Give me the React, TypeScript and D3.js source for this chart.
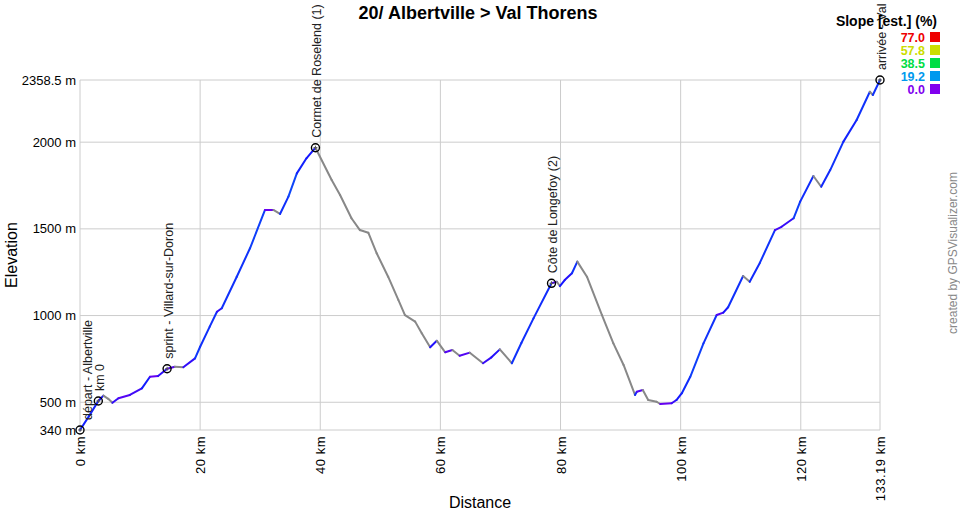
import React from "react";
import * as d3 from "d3";

const distKm = [0, 1.5, 3.05, 3.9, 4.7, 5.4, 6.4, 8.3, 10.3, 11.65, 13.0, 14.5, 15.8, 17.2, 19.15, 20.0, 21.6, 22.8, 23.6, 26.1, 28.3, 30.8, 32.2, 33.3, 34.7, 36.1, 37.7, 39.2, 41.9, 43.3, 45.2, 46.6, 48.0, 49.4, 51.3, 53.0, 54.1, 55.8, 56.9, 58.3, 59.4, 60.8, 62.0, 63.2, 64.9, 67.1, 68.5, 69.9, 71.9, 73.5, 75.5, 78.5, 79.4, 79.9, 80.7, 81.9, 82.8, 84.4, 86.9, 88.8, 90.5, 92.4, 92.7, 93.7, 94.6, 96.0, 96.6, 98.5, 99.3, 100.2, 101.6, 103.8, 106.0, 107.1, 107.9, 110.4, 111.5, 113.2, 115.7, 116.8, 118.8, 119.9, 122.1, 123.4, 124.9, 127.1, 129.3, 131.5, 132.0, 133.19];
const elevM = [340, 420, 507, 538, 520, 497, 523, 542, 580, 647, 651, 693, 705, 702, 753, 820, 936, 1022, 1042, 1224, 1388, 1609, 1609, 1586, 1686, 1820, 1907, 1968, 1782, 1695, 1561, 1493, 1478, 1359, 1224, 1090, 1003, 965, 898, 817, 855, 788, 801, 768, 786, 725, 759, 805, 725, 843, 984, 1186, 1195, 1170, 1205, 1244, 1311, 1224, 1003, 840, 715, 542, 561, 571, 513, 503, 490, 494, 513, 552, 647, 840, 1003, 1017, 1048, 1228, 1195, 1305, 1493, 1512, 1561, 1657, 1805, 1743, 1839, 2003, 2128, 2291, 2272, 2358.5];

const markerNames = ["départ - Albertville", "km 0", "sprint - Villard-sur-Doron", "Cormet de Roselend (1)", "Côte de Longefoy (2)", "arrivée - Val Thorens"];
const markerKm = [0, 3.05, 14.5, 39.2, 78.5, 133.19];

const yTicks = [340, 500, 1000, 1500, 2000, 2358.5];
const yTickLabels = ["340 m", "500 m", "1000 m", "1500 m", "2000 m", "2358.5 m"];
const xTicks = [0, 20, 40, 60, 80, 100, 120, 133.19];
const xTickLabels = ["0 km", "20 km", "40 km", "60 km", "80 km", "100 km", "120 km", "133.19 km"];

const legendValues = ["77.0", "57.8", "38.5", "19.2", "0.0"];
const legendColors = ["#ee0000", "#ccdd00", "#00dd44", "#0099ee", "#8000ee"];
const lineSlopeStops = [0, 4, 19.2, 38.5, 57.8, 77.0];
const lineSlopeColors = ["#6a00f0", "#1414ff", "#0099ee", "#00dd44", "#ccdd00", "#ee0000"];

const FONT = "Arial, 'Liberation Sans', sans-serif";

export default function App() {
  const x = d3.scaleLinear().domain([0, 133.19]).range([80, 880]);
  const y = d3.scaleLinear().domain([340, 2358.5]).range([430, 80]);
  const colorScale = d3
    .scaleLinear<string>()
    .domain(lineSlopeStops)
    .range(lineSlopeColors)
    .interpolate(d3.interpolateRgb)
    .clamp(true);

  const segs = [];
  for (let i = 0; i < distKm.length - 1; i++) {
    const dd = (distKm[i + 1] - distKm[i]) * 1000;
    const de = elevM[i + 1] - elevM[i];
    const slope = (de / dd) * 100;
    const col = slope < 0 ? "#888888" : colorScale(slope);
    segs.push(
      <line
        key={"s" + i}
        x1={x(distKm[i])}
        y1={y(elevM[i])}
        x2={x(distKm[i + 1])}
        y2={y(elevM[i + 1])}
        stroke={col}
        strokeWidth={2}
        strokeLinecap="round"
      />
    );
  }

  const elevAt = (km: number) => {
    const idx = d3.bisectLeft(distKm, km);
    if (idx <= 0) return elevM[0];
    if (idx >= distKm.length) return elevM[elevM.length - 1];
    const t = (km - distKm[idx - 1]) / (distKm[idx] - distKm[idx - 1]);
    return elevM[idx - 1] + t * (elevM[idx] - elevM[idx - 1]);
  };

  return (
    <svg
      width={960}
      height={510}
      style={{ position: "absolute", left: 0, top: 0, background: "#fff" }}
      fontFamily={FONT}
    >
      <rect x={0} y={0} width={960} height={510} fill="#fff" />
      {yTicks.map((t) => (
        <line key={"gy" + t} x1={80} x2={880} y1={y(t)} y2={y(t)} stroke="#cccccc" strokeWidth={1} />
      ))}
      {xTicks.map((t) => (
        <line key={"gx" + t} x1={x(t)} x2={x(t)} y1={80} y2={430} stroke="#cccccc" strokeWidth={1} />
      ))}
      {yTicks.map((t, i) => (
        <text key={"yl" + t} x={76} y={y(t)} dy="0.35em" textAnchor="end" fontSize={13} fill="#000">
          {yTickLabels[i]}
        </text>
      ))}
      {xTicks.map((t, i) => (
        <text
          key={"xl" + t}
          transform={`translate(${x(t) + 5},436) rotate(-90)`}
          textAnchor="end"
          fontSize={13}
          letterSpacing={0.5}
          fill="#000"
        >
          {xTickLabels[i]}
        </text>
      ))}
      <text x={480} y={508} textAnchor="middle" fontSize={16} fill="#000">
        Distance
      </text>
      <text transform="translate(17,255) rotate(-90)" textAnchor="middle" fontSize={16} fill="#000">
        Elevation
      </text>
      <text x={478} y={19} textAnchor="middle" fontSize={18} fontWeight="bold" fill="#000">
        20/ Albertville &gt; Val Thorens
      </text>
      {segs}
      {markerKm.map((km, i) => {
        const mx = x(km);
        const my = y(elevAt(km));
        const tx = Math.max(mx + 1, 87);
        return (
          <g key={"m" + i}>
            <circle cx={mx} cy={my} r={4} fill="none" stroke="#000" strokeWidth={1.4} />
            <line x1={mx - 2} x2={mx + 2} y1={my} y2={my} stroke="#555" strokeWidth={1} />
            <line x1={mx} x2={mx} y1={my - 2} y2={my + 2} stroke="#555" strokeWidth={1} />
            <text
              transform={`translate(${tx + 4.5},${my - 10}) rotate(-90)`}
              textAnchor="start"
              fontSize={12.5}
              fill="#222"
            >
              {markerNames[i]}
            </text>
          </g>
        );
      })}
      <text x={937} y={26} textAnchor="end" fontSize={14} fontWeight="bold" fill="#000">
        Slope [est.] (%)
      </text>
      {legendValues.map((v, i) => (
        <g key={"lg" + i}>
          <text x={925} y={41.5 + i * 13} textAnchor="end" fontSize={12.5} fontWeight="bold" fill={legendColors[i]}>
            {v}
          </text>
          <rect x={930} y={32 + i * 13} width={10} height={10} fill={legendColors[i]} />
        </g>
      ))}
      <text transform="translate(957,253) rotate(-90)" textAnchor="middle" fontSize={12} fill="#888">
        created by GPSVisualizer.com
      </text>
    </svg>
  );
}
